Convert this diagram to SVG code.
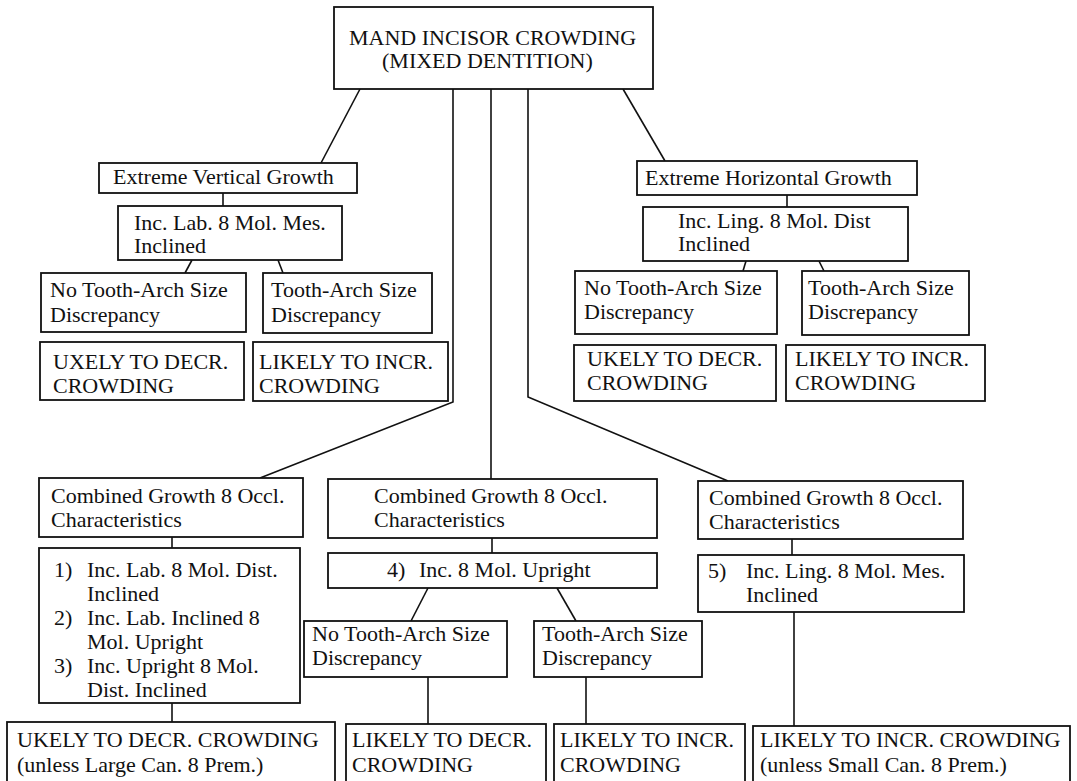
<svg xmlns="http://www.w3.org/2000/svg" width="1077" height="781" viewBox="0 0 1077 781">
<style>
.b{fill:#fff;stroke:#111;stroke-width:1.8}
.c{fill:none;stroke:#111;stroke-width:1.6}
text{font-family:"Liberation Serif","Times New Roman",serif;font-size:22px;fill:#111}
</style>
<rect width="1077" height="781" fill="#fff"/>
<g id="connectors">
<line class="c" x1="360" y1="89" x2="321" y2="163"/>
<line class="c" x1="623" y1="89" x2="665" y2="161"/>
<polyline class="c" points="453,89 453,402 260,478"/>
<line class="c" x1="491" y1="89" x2="491" y2="479"/>
<polyline class="c" points="528,89 528,397 728,481"/>
<line class="c" x1="223" y1="193" x2="223" y2="206"/>
<line class="c" x1="192" y1="260" x2="185" y2="273"/>
<line class="c" x1="278" y1="260" x2="283" y2="273"/>
<line class="c" x1="787" y1="195" x2="787" y2="207"/>
<line class="c" x1="746" y1="261" x2="743" y2="271"/>
<line class="c" x1="819" y1="261" x2="824" y2="271"/>
<line class="c" x1="172" y1="537" x2="172" y2="548"/>
<line class="c" x1="172" y1="703" x2="172" y2="722"/>
<line class="c" x1="492" y1="538" x2="492" y2="553"/>
<line class="c" x1="428" y1="588" x2="411" y2="621"/>
<line class="c" x1="557" y1="588" x2="576" y2="621"/>
<line class="c" x1="428" y1="677" x2="428" y2="724"/>
<line class="c" x1="586" y1="677" x2="586" y2="724"/>
<line class="c" x1="792" y1="539" x2="792" y2="555"/>
<line class="c" x1="794" y1="612" x2="794" y2="726"/>
</g>
<g id="root"><rect class="b" x="334" y="7" width="319" height="82"/><text x="349" y="45">MAND INCISOR CROWDING</text><text x="382" y="68">(MIXED DENTITION)</text></g>
<g id="evg"><rect class="b" x="99" y="163" width="258" height="30"/><text x="113" y="184">Extreme Vertical Growth</text></g>
<g id="inclab"><rect class="b" x="118" y="206" width="224" height="54"/><text x="134" y="230">Inc. Lab. 8 Mol. Mes.</text><text x="134" y="253">Inclined</text></g>
<g id="notooth-l"><rect class="b" x="41" y="273" width="205" height="59"/><text x="50" y="297">No Tooth-Arch Size</text><text x="50" y="322">Discrepancy</text></g>
<g id="tooth-l"><rect class="b" x="263" y="273" width="169" height="60"/><text x="271" y="297">Tooth-Arch Size</text><text x="271" y="322">Discrepancy</text></g>
<g id="decr-l"><rect class="b" x="40" y="342" width="204" height="58"/><text x="53" y="369">UXELY TO DECR.</text><text x="53" y="393">CROWDING</text></g>
<g id="incr-l"><rect class="b" x="253" y="342" width="195" height="59"/><text x="259" y="369">LIKELY TO INCR.</text><text x="259" y="393">CROWDING</text></g>
<g id="ehg"><rect class="b" x="637" y="161" width="280" height="34"/><text x="645" y="185">Extreme Horizontal Growth</text></g>
<g id="incling"><rect class="b" x="643" y="207" width="265" height="54"/><text x="678" y="228">Inc. Ling. 8 Mol. Dist</text><text x="678" y="251">Inclined</text></g>
<g id="notooth-r"><rect class="b" x="575" y="271" width="202" height="63"/><text x="584" y="295">No Tooth-Arch Size</text><text x="584" y="319">Discrepancy</text></g>
<g id="tooth-r"><rect class="b" x="802" y="271" width="167" height="64"/><text x="808" y="295">Tooth-Arch Size</text><text x="808" y="319">Discrepancy</text></g>
<g id="decr-r"><rect class="b" x="574" y="345" width="202" height="56"/><text x="587" y="366">UKELY TO DECR.</text><text x="587" y="390">CROWDING</text></g>
<g id="incr-r"><rect class="b" x="786" y="345" width="199" height="56"/><text x="795" y="366">LIKELY TO INCR.</text><text x="795" y="390">CROWDING</text></g>
<g id="comb-l"><rect class="b" x="39" y="478" width="264" height="59"/><text x="51" y="503">Combined Growth 8 Occl.</text><text x="51" y="527">Characteristics</text></g>
<g id="list"><rect class="b" x="39" y="548" width="261" height="155"/>
<text x="54" y="577">1)</text><text x="87" y="577">Inc. Lab. 8 Mol.  Dist.</text><text x="87" y="601">Inclined</text>
<text x="54" y="625">2)</text><text x="87" y="625">Inc. Lab. Inclined 8</text><text x="87" y="649">Mol. Upright</text>
<text x="54" y="673">3)</text><text x="87" y="673">Inc. Upright 8 Mol.</text><text x="87" y="697">Dist. Inclined</text></g>
<g id="comb-m"><rect class="b" x="328" y="479" width="329" height="59"/><text x="374" y="503">Combined Growth 8 Occl.</text><text x="374" y="527">Characteristics</text></g>
<g id="upright"><rect class="b" x="328" y="553" width="329" height="35"/><text x="387" y="577">4)</text><text x="419" y="577">Inc. 8 Mol. Upright</text></g>
<g id="notooth-m"><rect class="b" x="304" y="621" width="203" height="56"/><text x="312" y="641">No Tooth-Arch Size</text><text x="312" y="665">Discrepancy</text></g>
<g id="tooth-m"><rect class="b" x="534" y="621" width="168" height="56"/><text x="542" y="641">Tooth-Arch Size</text><text x="542" y="665">Discrepancy</text></g>
<g id="comb-r"><rect class="b" x="698" y="481" width="265" height="58"/><text x="709" y="505">Combined Growth 8 Occl.</text><text x="709" y="529">Characteristics</text></g>
<g id="ling5"><rect class="b" x="698" y="555" width="266" height="57"/><text x="708" y="578">5)</text><text x="746" y="578">Inc. Ling. 8 Mol. Mes.</text><text x="746" y="602">Inclined</text></g>
<g id="out-bl"><rect class="b" x="7" y="722" width="328" height="63"/><text x="17" y="747">UKELY TO DECR. CROWDING</text><text x="17" y="772">(unless Large Can. 8 Prem.)</text></g>
<g id="out-decr-m"><rect class="b" x="346" y="724" width="200" height="61"/><text x="352" y="747">LIKELY TO DECR.</text><text x="352" y="772">CROWDING</text></g>
<g id="out-incr-m"><rect class="b" x="554" y="724" width="191" height="61"/><text x="560" y="747">LIKELY TO INCR.</text><text x="560" y="772">CROWDING</text></g>
<g id="out-br"><rect class="b" x="753" y="726" width="317" height="59"/><text x="760" y="747">LIKELY TO INCR. CROWDING</text><text x="760" y="772">(unless Small Can. 8 Prem.)</text></g>
</svg>
